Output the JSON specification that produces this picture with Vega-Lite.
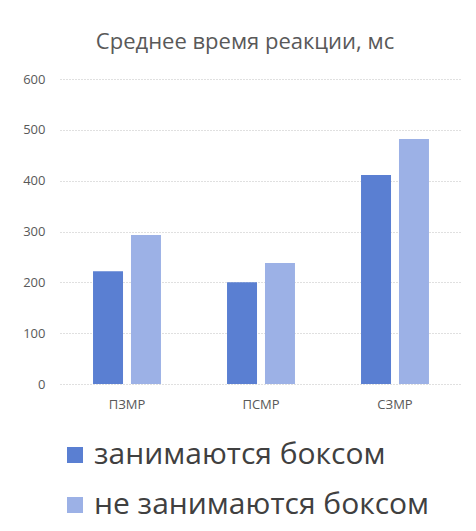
{
  "$schema": "https://vega.github.io/schema/vega-lite/v6.json",
  "autosize": "none",
  "width": 402,
  "height": 305,
  "padding": {"left": 60, "top": 79, "right": 14, "bottom": 147},
  "background": "white",
  "title": {
    "text": "Среднее время реакции, мс",
    "font": "Open Sans",
    "fontSize": 22,
    "fontWeight": "normal",
    "color": "#595959",
    "anchor": "middle",
    "dx": -16,
    "offset": 19
  },
  "data": {
    "values": [
      {"cat": "ПЗМР", "group": "занимаются боксом", "value": 222},
      {"cat": "ПЗМР", "group": "не занимаются боксом", "value": 293},
      {"cat": "ПСМР", "group": "занимаются боксом", "value": 200},
      {"cat": "ПСМР", "group": "не занимаются боксом", "value": 238},
      {"cat": "СЗМР", "group": "занимаются боксом", "value": 411},
      {"cat": "СЗМР", "group": "не занимаются боксом", "value": 482}
    ]
  },
  "mark": {"type": "bar"},
  "encoding": {
    "x": {
      "field": "cat",
      "type": "nominal",
      "sort": ["ПЗМР", "ПСМР", "СЗМР"],
      "scale": {"paddingInner": 0, "paddingOuter": 0},
      "axis": {
        "title": null,
        "labelAngle": 0,
        "domain": false,
        "ticks": false,
        "labelPadding": 14,
        "labelFont": "Open Sans",
        "labelFontSize": 13,
        "labelColor": "#595959"
      }
    },
    "xOffset": {
      "field": "group",
      "type": "nominal",
      "sort": ["занимаются боксом", "не занимаются боксом"],
      "scale": {"paddingInner": 0.21, "paddingOuter": 0.87}
    },
    "y": {
      "field": "value",
      "type": "quantitative",
      "scale": {"domain": [0, 600], "nice": false},
      "axis": {
        "title": null,
        "values": [0, 100, 200, 300, 400, 500, 600],
        "domain": false,
        "ticks": false,
        "labelPadding": 15,
        "labelFont": "Open Sans",
        "labelFontSize": 13,
        "labelColor": "#595959",
        "gridColor": "#c0c0c0",
        "gridDash": [1, 2]
      }
    },
    "color": {
      "field": "group",
      "type": "nominal",
      "sort": ["занимаются боксом", "не занимаются боксом"],
      "scale": {
        "domain": ["занимаются боксом", "не занимаются боксом"],
        "range": ["#5a7fd2", "#9cb1e6"]
      },
      "legend": {
        "title": null,
        "orient": "none",
        "legendX": 0,
        "legendY": 361,
        "direction": "vertical",
        "symbolType": "square",
        "symbolSize": 256,
        "labelFont": "Open Sans",
        "labelFontSize": 30,
        "labelLimit": 1000,
        "labelColor": "#404040",
        "rowPadding": 20,
        "labelOffset": 4
      }
    }
  },
  "config": {"view": {"stroke": null}}
}
